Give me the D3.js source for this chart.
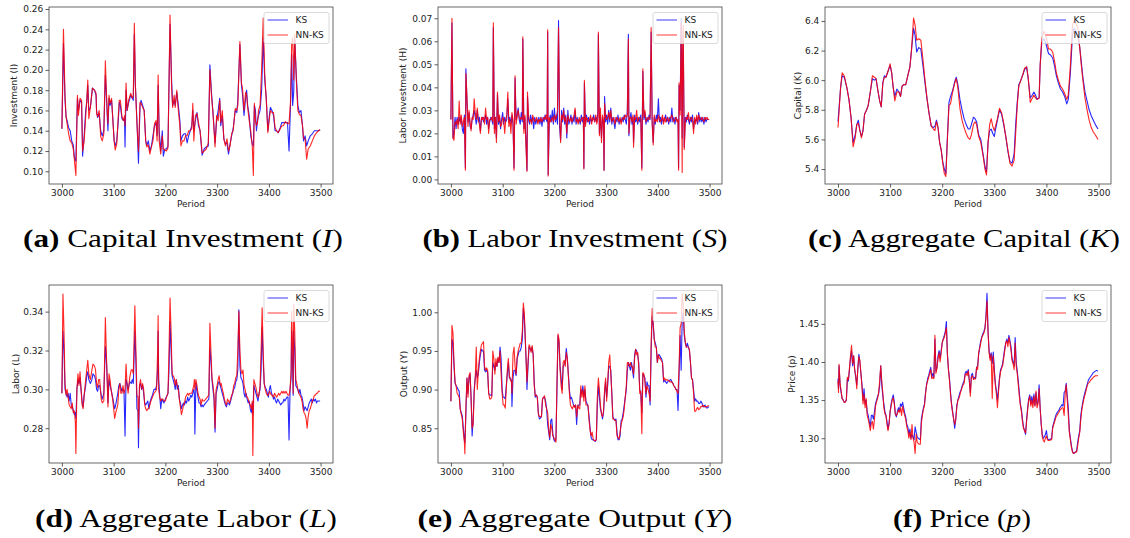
<!DOCTYPE html>
<html><head><meta charset="utf-8">
<script src="https://cdn.jsdelivr.net/npm/d3@7"></script>
<style>body{margin:0;background:#fff}svg{display:block}
.cap{font-family:"Liberation Serif","Times New Roman",Tinos,serif;}
</style>
</head><body>
<svg id="chart" width="1130" height="538"></svg>
<script>
// ---- data: [period, KS, NN-KS] ----
const seriesNames = ["KS", "NN-KS"];
const xTickValues = [3000, 3100, 3200, 3300, 3400, 3500];

const investment = [
[3000,.142,.142],[3003,.226,.240],[3006,.170,.175],[3008,.154,.154],[3010,.150,.147],[3013,.143,.137],[3016,.140,.130],[3019,.130,.128],[3022,.126,.122],[3024,.114,.112],[3027,.110,.096],[3030,.172,.175],[3032,.160,.155],[3035,.170,.172],[3038,.168,.170],[3040,.115,.120],[3043,.135,.130],[3046,.160,.154],[3048,.168,.170],[3050,.185,.190],[3052,.160,.152],[3055,.163,.163],[3059,.182,.182],[3063,.180,.180],[3066,.175,.177],[3067,.160,.157],[3069,.153,.154],[3072,.157,.160],[3075,.140,.134],[3078,.135,.130],[3081,.140,.137],[3084,.195,.209],[3086,.175,.177],[3088,.150,.155],[3089,.140,.147],[3091,.172,.175],[3093,.165,.167],[3096,.170,.172],[3098,.155,.154],[3101,.130,.130],[3103,.125,.121],[3106,.130,.127],[3109,.150,.155],[3111,.168,.170],[3113,.165,.170],[3116,.152,.154],[3119,.150,.150],[3121,.153,.155],[3122,.124,.145],[3124,.180,.187],[3126,.160,.160],[3129,.168,.170],[3133,.175,.177],[3136,.172,.172],[3138,.170,.175],[3140,.235,.246],[3142,.185,.185],[3145,.150,.147],[3148,.108,.120],[3151,.165,.168],[3153,.170,.167],[3156,.165,.163],[3159,.160,.160],[3162,.130,.130],[3164,.125,.124],[3167,.130,.126],[3170,.120,.117],[3173,.125,.124],[3176,.135,.130],[3179,.145,.147],[3182,.148,.150],[3184,.135,.130],[3186,.185,.195],[3188,.140,.130],[3191,.120,.117],[3194,.140,.135],[3196,.115,.122],[3199,.122,.121],[3202,.122,.120],[3205,.125,.123],[3209,.245,.254],[3212,.190,.183],[3214,.165,.163],[3217,.170,.175],[3219,.165,.163],[3222,.178,.180],[3225,.165,.160],[3228,.150,.145],[3230,.130,.125],[3233,.135,.130],[3236,.137,.130],[3239,.137,.135],[3242,.128,.135],[3245,.135,.140],[3248,.140,.140],[3251,.145,.142],[3253,.160,.167],[3255,.140,.130],[3258,.150,.155],[3261,.158,.157],[3264,.145,.148],[3267,.140,.140],[3269,.128,.130],[3271,.116,.118],[3275,.122,.120],[3279,.124,.122],[3283,.125,.128],[3286,.205,.200],[3289,.178,.175],[3292,.158,.157],[3296,.128,.124],[3299,.150,.155],[3302,.160,.150],[3305,.172,.170],[3307,.145,.148],[3310,.155,.160],[3313,.132,.132],[3316,.127,.125],[3319,.128,.132],[3322,.117,.120],[3325,.127,.125],[3328,.135,.137],[3331,.142,.140],[3335,.160,.162],[3338,.158,.160],[3340,.170,.165],[3344,.225,.228],[3347,.185,.187],[3349,.176,.182],[3352,.155,.160],[3355,.172,.178],[3357,.180,.175],[3359,.165,.163],[3362,.155,.150],[3365,.135,.140],[3368,.127,.124],[3370,.125,.096],[3372,.165,.167],[3374,.160,.150],[3376,.140,.145],[3378,.150,.148],[3380,.155,.160],[3383,.160,.165],[3386,.180,.200],[3389,.232,.251],[3392,.190,.196],[3395,.172,.170],[3398,.140,.138],[3401,.155,.152],[3403,.163,.160],[3406,.160,.158],[3409,.155,.158],[3412,.140,.143],[3415,.140,.140],[3418,.138,.138],[3422,.143,.142],[3425,.148,.145],[3428,.148,.145],[3432,.148,.149],[3436,.148,.147],[3439,.120,.147],[3442,.168,.170],[3444,.215,.225],[3446,.165,.232],[3448,.178,.190],[3450,.230,.235],[3453,.195,.190],[3456,.165,.160],[3459,.158,.156],[3462,.160,.155],[3465,.145,.145],[3467,.130,.133],[3470,.135,.132],[3473,.125,.112],[3476,.130,.122],[3480,.135,.125],[3484,.137,.130],[3488,.140,.135],[3492,.140,.138],[3496,.140,.140],[3499,.141,.141]
];

const laborInvestment = [
[3000,.026,.026],[3002,.068,.070],[3004,.018,.018],[3006,.020,.017],[3008,.027,.025],[3010,.022,.024],[3012,.027,.026],[3014,.024,.022],[3016,.027,.034],[3018,.025,.024],[3020,.027,.028],[3022,.022,.023],[3024,.020,.025],[3026,.028,.027],[3028,.005,.004],[3029,.048,.046],[3031,.034,.036],[3033,.025,.023],[3035,.029,.030],[3037,.023,.025],[3039,.022,.021],[3041,.026,.027],[3043,.028,.026],[3045,.030,.035],[3047,.027,.029],[3049,.024,.026],[3051,.030,.031],[3053,.025,.026],[3055,.027,.024],[3057,.021,.020],[3059,.026,.027],[3061,.027,.026],[3063,.025,.027],[3065,.026,.024],[3067,.028,.031],[3069,.024,.026],[3071,.027,.027],[3073,.022,.020],[3075,.025,.026],[3077,.027,.026],[3079,.026,.027],[3081,.024,.025],[3082,.066,.068],[3084,.022,.020],[3086,.027,.027],[3088,.018,.016],[3090,.037,.038],[3092,.024,.025],[3094,.027,.028],[3096,.022,.023],[3098,.026,.024],[3100,.029,.027],[3102,.024,.026],[3104,.027,.020],[3106,.025,.026],[3108,.026,.028],[3110,.035,.038],[3112,.025,.023],[3114,.027,.026],[3116,.024,.020],[3118,.028,.029],[3120,.024,.026],[3122,.005,.004],[3124,.044,.045],[3126,.026,.024],[3128,.028,.027],[3130,.031,.030],[3132,.026,.027],[3134,.024,.026],[3136,.029,.027],[3138,.025,.026],[3139,.061,.062],[3141,.022,.020],[3143,.027,.028],[3145,.017,.015],[3147,.004,.0035],[3148,.036,.038],[3150,.026,.028],[3152,.024,.025],[3154,.028,.026],[3156,.025,.024],[3158,.027,.028],[3160,.022,.026],[3162,.027,.025],[3164,.024,.026],[3166,.026,.027],[3168,.025,.024],[3170,.027,.026],[3172,.024,.025],[3174,.027,.027],[3176,.023,.025],[3178,.027,.026],[3180,.025,.027],[3182,.028,.026],[3184,.026,.028],[3186,.025,.026],[3187,.064,.065],[3188,.002,.0015],[3190,.024,.027],[3192,.028,.025],[3194,.025,.026],[3196,.030,.027],[3198,.024,.025],[3200,.031,.028],[3202,.025,.026],[3204,.028,.027],[3206,.024,.030],[3208,.069,.066],[3210,.023,.028],[3212,.017,.016],[3214,.030,.028],[3216,.025,.026],[3218,.031,.030],[3220,.024,.025],[3222,.028,.027],[3224,.018,.020],[3226,.030,.028],[3228,.024,.026],[3230,.026,.025],[3232,.028,.027],[3234,.024,.025],[3236,.027,.026],[3238,.025,.028],[3240,.030,.031],[3242,.024,.025],[3244,.027,.026],[3246,.025,.024],[3248,.026,.027],[3250,.024,.025],[3252,.028,.026],[3254,.025,.027],[3256,.027,.026],[3257,.005,.0045],[3258,.042,.043],[3260,.024,.023],[3262,.028,.027],[3264,.025,.026],[3266,.027,.025],[3268,.024,.026],[3270,.027,.028],[3272,.025,.024],[3274,.026,.027],[3276,.028,.026],[3278,.025,.025],[3280,.027,.028],[3282,.025,.024],[3284,.029,.027],[3285,.063,.064],[3287,.020,.019],[3289,.028,.031],[3291,.018,.016],[3293,.027,.028],[3295,.024,.025],[3296,.004,.004],[3297,.036,.033],[3299,.025,.027],[3301,.028,.026],[3303,.024,.027],[3305,.030,.029],[3307,.025,.026],[3309,.031,.030],[3311,.024,.025],[3313,.027,.026],[3315,.025,.027],[3317,.022,.024],[3319,.027,.026],[3321,.025,.027],[3323,.028,.026],[3325,.024,.025],[3327,.026,.027],[3329,.025,.024],[3331,.027,.026],[3333,.025,.027],[3335,.028,.026],[3337,.026,.028],[3339,.024,.027],[3341,.030,.028],[3343,.063,.061],[3344,.019,.020],[3346,.026,.027],[3348,.029,.027],[3350,.024,.025],[3352,.027,.028],[3353,.016,.014],[3355,.028,.027],[3357,.025,.026],[3359,.027,.030],[3361,.024,.025],[3363,.027,.026],[3365,.025,.027],[3367,.028,.026],[3369,.005,.004],[3371,.047,.048],[3373,.026,.027],[3375,.029,.030],[3377,.024,.025],[3379,.027,.026],[3381,.025,.027],[3383,.028,.026],[3385,.026,.027],[3387,.064,.066],[3389,.025,.024],[3391,.016,.015],[3393,.027,.028],[3395,.024,.025],[3397,.028,.026],[3399,.026,.025],[3401,.035,.028],[3403,.025,.026],[3405,.027,.025],[3407,.024,.026],[3409,.027,.028],[3411,.025,.024],[3413,.026,.027],[3415,.028,.025],[3417,.025,.026],[3419,.027,.027],[3421,.024,.025],[3423,.027,.026],[3425,.025,.027],[3427,.031,.028],[3429,.025,.026],[3431,.027,.025],[3433,.024,.026],[3435,.027,.027],[3437,.026,.025],[3439,.025,.026],[3440,.005,.004],[3441,.041,.042],[3443,.030,.028],[3445,.070,.068],[3447,.018,.003],[3448,.055,.062],[3449,.060,.067],[3451,.014,.013],[3453,.027,.025],[3455,.025,.027],[3457,.028,.026],[3459,.026,.029],[3461,.024,.025],[3463,.027,.026],[3465,.025,.027],[3467,.028,.026],[3469,.022,.020],[3471,.026,.027],[3473,.025,.024],[3475,.027,.028],[3477,.024,.025],[3479,.029,.028],[3481,.025,.026],[3483,.027,.026],[3485,.025,.027],[3487,.027,.026],[3489,.024,.025],[3491,.027,.027],[3493,.025,.026],[3495,.026,.027],[3497,.026,.026],[3499,.026,.026]
];

const capital = [
[3000,5.72,5.68],[3005,5.95,5.95],[3008,6.03,6.05],[3012,6.02,6.03],[3017,5.95,5.95],[3021,5.87,5.87],[3025,5.75,5.75],[3029,5.58,5.55],[3033,5.63,5.61],[3036,5.70,5.70],[3039,5.73,5.71],[3042,5.66,5.66],[3045,5.62,5.61],[3048,5.66,5.66],[3051,5.77,5.77],[3055,5.80,5.80],[3058,5.83,5.83],[3062,5.92,5.92],[3066,6.01,6.03],[3070,6.00,6.02],[3073,6.01,6.01],[3077,5.92,5.92],[3080,5.86,5.86],[3083,5.82,5.82],[3086,5.98,5.98],[3089,6.03,6.02],[3092,6.02,6.02],[3096,6.06,6.06],[3100,6.10,6.11],[3103,6.05,6.05],[3106,5.95,5.95],[3109,5.89,5.86],[3113,5.94,5.92],[3117,5.92,5.92],[3120,5.89,5.89],[3123,5.96,5.96],[3126,5.97,5.97],[3130,5.97,5.97],[3134,6.03,6.03],[3138,6.09,6.09],[3141,6.20,6.20],[3145,6.35,6.42],[3148,6.30,6.37],[3151,6.19,6.27],[3155,6.22,6.28],[3159,6.21,6.27],[3163,6.10,6.14],[3167,5.98,6.00],[3171,5.87,5.87],[3175,5.77,5.77],[3179,5.69,5.69],[3183,5.68,5.67],[3186,5.69,5.66],[3189,5.73,5.72],[3192,5.68,5.68],[3195,5.58,5.58],[3198,5.53,5.53],[3201,5.45,5.44],[3204,5.40,5.37],[3207,5.37,5.35],[3210,5.62,5.60],[3213,5.85,5.83],[3216,5.89,5.84],[3220,5.93,5.92],[3224,5.99,5.98],[3227,6.02,6.01],[3230,5.97,5.95],[3234,5.87,5.81],[3238,5.80,5.73],[3242,5.74,5.68],[3246,5.70,5.64],[3250,5.67,5.61],[3253,5.67,5.60],[3256,5.70,5.63],[3260,5.75,5.70],[3263,5.74,5.72],[3266,5.72,5.70],[3270,5.63,5.62],[3274,5.60,5.58],[3278,5.51,5.50],[3282,5.42,5.40],[3285,5.38,5.36],[3288,5.58,5.58],[3291,5.66,5.70],[3294,5.67,5.74],[3297,5.64,5.69],[3300,5.62,5.66],[3303,5.68,5.70],[3306,5.73,5.74],[3310,5.80,5.81],[3314,5.77,5.78],[3318,5.70,5.71],[3322,5.62,5.62],[3326,5.52,5.53],[3330,5.45,5.44],[3334,5.44,5.42],[3338,5.50,5.46],[3341,5.70,5.64],[3344,5.85,5.83],[3347,5.97,5.96],[3351,6.00,6.00],[3355,6.04,6.04],[3358,6.07,6.08],[3362,6.09,6.09],[3365,6.01,6.02],[3369,5.88,5.85],[3373,5.90,5.88],[3376,5.92,5.90],[3379,5.90,5.88],[3382,5.87,5.87],[3386,5.88,5.88],[3388,6.10,6.10],[3391,6.25,6.28],[3395,6.28,6.33],[3398,6.26,6.31],[3401,6.22,6.27],[3404,6.18,6.21],[3408,6.17,6.21],[3412,6.15,6.19],[3416,6.09,6.12],[3419,6.03,6.05],[3423,5.98,6.00],[3427,5.94,5.96],[3431,5.92,5.94],[3435,5.89,5.91],[3439,5.84,5.87],[3442,5.87,5.90],[3446,6.05,6.10],[3450,6.30,6.37],[3453,6.35,6.40],[3457,6.33,6.38],[3460,6.30,6.36],[3464,6.22,6.22],[3467,6.12,6.10],[3470,6.02,6.00],[3474,5.92,5.88],[3478,5.86,5.80],[3482,5.80,5.73],[3486,5.76,5.68],[3490,5.73,5.65],[3494,5.70,5.63],[3499,5.67,5.60]
];

const labor = [
[3000,.298,.298],[3002,.330,.349],[3004,.320,.330],[3006,.300,.303],[3008,.298,.297],[3010,.296,.300],[3012,.298,.296],[3014,.294,.292],[3016,.298,.291],[3018,.292,.290],[3020,.291,.293],[3022,.289,.288],[3024,.287,.289],[3026,.288,.283],[3027,.285,.267],[3029,.300,.300],[3031,.305,.308],[3033,.303,.302],[3035,.306,.309],[3037,.300,.300],[3039,.294,.292],[3041,.291,.290],[3043,.297,.297],[3046,.302,.305],[3048,.307,.310],[3050,.309,.315],[3052,.305,.308],[3055,.303,.305],[3058,.305,.310],[3060,.308,.313],[3063,.307,.312],[3065,.305,.310],[3067,.300,.303],[3069,.299,.301],[3071,.302,.305],[3073,.302,.305],[3076,.297,.295],[3078,.295,.293],[3081,.298,.294],[3084,.322,.337],[3086,.315,.318],[3088,.302,.300],[3089,.293,.291],[3091,.305,.308],[3093,.302,.305],[3095,.300,.300],[3098,.296,.295],[3100,.293,.290],[3102,.290,.285],[3104,.292,.288],[3106,.295,.290],[3108,.298,.292],[3110,.302,.300],[3112,.303,.303],[3114,.301,.298],[3116,.299,.298],[3118,.300,.302],[3120,.299,.298],[3122,.276,.300],[3124,.305,.313],[3126,.303,.302],[3128,.300,.298],[3131,.304,.306],[3134,.303,.310],[3136,.305,.310],[3138,.303,.308],[3141,.330,.343],[3143,.315,.320],[3145,.290,.297],[3147,.289,.296],[3148,.270,.280],[3150,.302,.302],[3152,.303,.305],[3154,.300,.300],[3156,.302,.303],[3158,.298,.300],[3160,.293,.292],[3162,.292,.290],[3164,.293,.289],[3166,.294,.290],[3168,.290,.290],[3170,.293,.292],[3172,.295,.294],[3175,.297,.296],[3178,.300,.298],[3181,.300,.299],[3183,.302,.300],[3185,.310,.320],[3186,.330,.338],[3187,.305,.300],[3189,.297,.296],[3191,.290,.294],[3193,.295,.295],[3195,.294,.295],[3197,.293,.294],[3200,.295,.294],[3202,.296,.296],[3205,.298,.298],[3207,.310,.320],[3209,.335,.347],[3211,.320,.330],[3213,.307,.308],[3215,.305,.307],[3217,.303,.306],[3219,.300,.302],[3221,.305,.305],[3223,.300,.302],[3225,.302,.300],[3227,.295,.295],[3229,.293,.291],[3231,.290,.287],[3233,.292,.289],[3235,.293,.292],[3237,.292,.293],[3239,.294,.296],[3241,.293,.297],[3243,.296,.298],[3245,.294,.297],[3247,.295,.298],[3249,.297,.298],[3251,.296,.298],[3253,.298,.300],[3255,.300,.302],[3256,.298,.305],[3257,.277,.300],[3259,.303,.305],[3261,.300,.302],[3263,.296,.298],[3265,.293,.296],[3267,.293,.295],[3269,.291,.292],[3271,.292,.295],[3273,.291,.294],[3275,.292,.294],[3278,.293,.295],[3281,.294,.296],[3284,.295,.297],[3286,.322,.334],[3288,.315,.320],[3290,.305,.306],[3292,.300,.302],[3294,.295,.297],[3296,.278,.280],[3298,.298,.300],[3300,.300,.302],[3302,.303,.305],[3304,.304,.307],[3306,.302,.302],[3308,.300,.303],[3310,.298,.300],[3312,.296,.298],[3314,.294,.295],[3316,.292,.293],[3318,.291,.292],[3320,.293,.295],[3322,.293,.294],[3324,.292,.293],[3326,.294,.295],[3328,.296,.297],[3330,.298,.298],[3332,.300,.302],[3334,.301,.303],[3336,.304,.306],[3338,.305,.307],[3340,.310,.320],[3342,.341,.340],[3344,.312,.320],[3346,.306,.310],[3348,.305,.308],[3350,.303,.310],[3352,.298,.302],[3354,.296,.300],[3356,.298,.297],[3358,.295,.296],[3360,.293,.295],[3362,.294,.293],[3364,.290,.292],[3366,.288,.290],[3368,.293,.294],[3369,.287,.266],[3371,.302,.305],[3373,.300,.303],[3375,.298,.301],[3377,.296,.298],[3379,.294,.296],[3381,.298,.297],[3383,.300,.302],[3385,.310,.320],[3387,.332,.342],[3389,.315,.320],[3391,.303,.303],[3393,.301,.300],[3395,.300,.298],[3397,.298,.297],[3399,.296,.297],[3401,.300,.299],[3403,.302,.298],[3405,.298,.297],[3407,.297,.297],[3409,.295,.296],[3411,.296,.298],[3413,.294,.297],[3415,.293,.296],[3417,.295,.297],[3419,.294,.298],[3421,.293,.297],[3423,.292,.298],[3425,.293,.299],[3427,.293,.298],[3429,.295,.299],[3431,.294,.298],[3433,.295,.299],[3435,.296,.298],[3437,.296,.297],[3439,.274,.297],[3441,.300,.300],[3443,.306,.310],[3444,.330,.340],[3446,.310,.320],[3447,.297,.298],[3448,.330,.344],[3450,.320,.330],[3452,.302,.305],[3454,.301,.303],[3456,.300,.300],[3458,.298,.298],[3460,.300,.297],[3462,.297,.296],[3464,.296,.294],[3466,.293,.290],[3468,.289,.288],[3470,.291,.287],[3472,.290,.285],[3474,.289,.280],[3476,.291,.286],[3478,.293,.289],[3480,.294,.290],[3482,.295,.292],[3484,.293,.294],[3486,.295,.295],[3488,.294,.297],[3490,.295,.297],[3492,.293,.298],[3494,.294,.298],[3496,.294,.299],[3499,.294,.299]
];

const output = [
[3000,.885,.885],[3002,.965,.983],[3004,.960,.973],[3006,.930,.935],[3008,.908,.910],[3010,.905,.905],[3012,.903,.895],[3014,.900,.893],[3016,.898,.890],[3018,.875,.875],[3020,.870,.868],[3022,.866,.862],[3024,.850,.845],[3026,.835,.833],[3027,.831,.817],[3029,.870,.878],[3031,.915,.915],[3033,.895,.890],[3035,.915,.918],[3037,.920,.922],[3039,.890,.888],[3041,.840,.850],[3043,.860,.855],[3045,.900,.895],[3047,.915,.915],[3049,.925,.955],[3051,.915,.900],[3053,.920,.925],[3055,.935,.940],[3057,.945,.950],[3059,.952,.958],[3061,.950,.960],[3063,.950,.962],[3065,.925,.930],[3067,.923,.925],[3069,.925,.928],[3071,.922,.925],[3073,.895,.895],[3075,.893,.888],[3077,.893,.888],[3079,.892,.890],[3081,.935,.950],[3083,.930,.940],[3085,.925,.920],[3087,.935,.940],[3089,.930,.930],[3091,.940,.942],[3093,.935,.935],[3095,.955,.950],[3097,.940,.920],[3099,.900,.895],[3101,.890,.880],[3103,.890,.880],[3105,.888,.876],[3107,.905,.900],[3109,.920,.925],[3111,.935,.940],[3113,.915,.918],[3115,.915,.912],[3117,.912,.910],[3118,.878,.895],[3120,.915,.945],[3122,.925,.955],[3124,.925,.930],[3126,.918,.920],[3128,.940,.942],[3130,.945,.950],[3132,.950,.955],[3134,.950,.960],[3136,.955,.960],[3138,.965,.975],[3140,1.005,1.012],[3142,.990,.998],[3144,.960,.962],[3146,.928,.925],[3147,.900,.910],[3149,.930,.935],[3151,.955,.958],[3153,.953,.955],[3155,.950,.948],[3157,.955,.957],[3159,.945,.945],[3161,.910,.905],[3163,.890,.892],[3165,.893,.893],[3167,.890,.890],[3169,.870,.868],[3171,.862,.865],[3173,.863,.865],[3175,.865,.865],[3177,.887,.888],[3179,.890,.890],[3181,.890,.892],[3183,.885,.880],[3185,.875,.875],[3187,.855,.870],[3189,.845,.848],[3191,.835,.838],[3193,.860,.855],[3195,.862,.850],[3197,.843,.840],[3199,.835,.838],[3201,.833,.835],[3203,.835,.832],[3205,.900,.910],[3207,.970,.972],[3209,.960,.965],[3211,.930,.925],[3213,.915,.905],[3215,.900,.895],[3217,.930,.935],[3219,.933,.938],[3221,.935,.930],[3223,.953,.948],[3225,.940,.940],[3227,.920,.918],[3229,.900,.895],[3231,.888,.880],[3233,.890,.877],[3235,.885,.875],[3237,.880,.880],[3239,.878,.877],[3241,.880,.880],[3243,.855,.865],[3245,.878,.880],[3247,.880,.876],[3249,.880,.875],[3251,.900,.905],[3253,.895,.890],[3255,.905,.900],[3257,.890,.885],[3259,.900,.905],[3261,.885,.880],[3263,.882,.880],[3265,.878,.880],[3267,.865,.860],[3269,.850,.847],[3271,.838,.840],[3273,.835,.845],[3275,.835,.836],[3277,.834,.834],[3279,.833,.834],[3281,.835,.835],[3283,.880,.890],[3285,.905,.915],[3287,.890,.900],[3289,.875,.880],[3291,.870,.868],[3293,.862,.865],[3295,.870,.872],[3297,.895,.900],[3299,.910,.915],[3301,.890,.885],[3303,.905,.910],[3305,.930,.935],[3307,.930,.945],[3309,.925,.920],[3311,.895,.895],[3313,.865,.862],[3315,.862,.862],[3317,.860,.860],[3319,.862,.860],[3321,.845,.840],[3323,.835,.838],[3325,.835,.836],[3327,.840,.845],[3329,.860,.855],[3331,.862,.860],[3333,.870,.865],[3335,.880,.875],[3337,.890,.890],[3339,.900,.905],[3341,.925,.935],[3343,.935,.935],[3345,.930,.930],[3347,.925,.935],[3349,.935,.930],[3351,.925,.930],[3353,.915,.920],[3355,.945,.940],[3357,.952,.952],[3359,.950,.945],[3361,.945,.948],[3363,.935,.930],[3365,.900,.895],[3367,.895,.898],[3369,.870,.843],[3371,.920,.922],[3373,.918,.920],[3375,.915,.910],[3377,.890,.895],[3379,.910,.905],[3381,.905,.900],[3383,.905,.895],[3385,.880,.885],[3387,.950,.960],[3389,.995,1.005],[3391,.985,.985],[3393,.965,.965],[3395,.960,.955],[3397,.955,.955],[3399,.935,.935],[3401,.945,.945],[3403,.945,.940],[3405,.942,.940],[3407,.940,.937],[3409,.935,.935],[3411,.910,.912],[3413,.912,.915],[3415,.910,.912],[3417,.908,.913],[3419,.910,.912],[3421,.912,.912],[3423,.912,.910],[3425,.913,.910],[3427,.910,.910],[3429,.908,.908],[3431,.905,.905],[3433,.903,.903],[3435,.900,.900],[3437,.900,.898],[3439,.873,.895],[3441,.920,.930],[3443,.970,.980],[3445,.925,.985],[3447,.990,1.024],[3449,1.000,1.010],[3451,.970,.975],[3453,.960,.962],[3455,.955,.955],[3457,.960,.955],[3459,.955,.955],[3461,.950,.952],[3463,.935,.935],[3465,.915,.915],[3467,.913,.912],[3469,.900,.895],[3471,.885,.872],[3473,.888,.872],[3475,.885,.875],[3477,.885,.877],[3479,.882,.874],[3481,.882,.875],[3483,.885,.878],[3485,.883,.878],[3487,.878,.880],[3489,.878,.878],[3491,.880,.878],[3493,.877,.878],[3495,.876,.878],[3497,.877,.879],[3499,.878,.879]
];

const price = [
[3000,1.378,1.375],[3001,1.365,1.360],[3002,1.395,1.397],[3004,1.370,1.372],[3006,1.360,1.362],[3008,1.352,1.352],[3010,1.350,1.350],[3012,1.347,1.347],[3014,1.348,1.347],[3016,1.350,1.350],[3018,1.378,1.380],[3020,1.375,1.377],[3022,1.390,1.392],[3024,1.405,1.408],[3026,1.415,1.422],[3028,1.395,1.398],[3030,1.408,1.408],[3032,1.390,1.390],[3034,1.380,1.382],[3036,1.370,1.365],[3038,1.390,1.392],[3040,1.410,1.407],[3042,1.400,1.402],[3044,1.385,1.385],[3046,1.370,1.368],[3048,1.350,1.345],[3050,1.365,1.358],[3052,1.345,1.340],[3054,1.350,1.352],[3056,1.335,1.330],[3058,1.330,1.325],[3060,1.322,1.318],[3062,1.315,1.310],[3064,1.330,1.320],[3066,1.330,1.322],[3068,1.325,1.312],[3070,1.335,1.325],[3072,1.345,1.342],[3074,1.350,1.348],[3076,1.355,1.352],[3078,1.358,1.360],[3080,1.370,1.375],[3082,1.395,1.395],[3084,1.370,1.375],[3086,1.355,1.360],[3088,1.345,1.340],[3090,1.335,1.332],[3092,1.330,1.330],[3094,1.322,1.318],[3096,1.312,1.310],[3098,1.320,1.318],[3100,1.335,1.335],[3102,1.345,1.342],[3104,1.352,1.350],[3106,1.357,1.353],[3108,1.348,1.345],[3110,1.332,1.332],[3112,1.328,1.330],[3114,1.335,1.332],[3116,1.340,1.337],[3118,1.335,1.334],[3120,1.345,1.340],[3122,1.342,1.330],[3124,1.347,1.342],[3126,1.340,1.335],[3128,1.333,1.330],[3130,1.328,1.325],[3132,1.318,1.315],[3134,1.315,1.310],[3136,1.305,1.300],[3138,1.312,1.308],[3140,1.300,1.298],[3142,1.305,1.318],[3144,1.302,1.300],[3146,1.298,1.295],[3148,1.315,1.280],[3150,1.308,1.305],[3152,1.302,1.295],[3154,1.300,1.293],[3156,1.299,1.292],[3158,1.298,1.292],[3160,1.325,1.320],[3162,1.333,1.330],[3164,1.340,1.338],[3166,1.345,1.343],[3168,1.360,1.358],[3170,1.370,1.370],[3172,1.378,1.375],[3174,1.382,1.380],[3176,1.388,1.385],[3178,1.393,1.390],[3180,1.380,1.378],[3182,1.385,1.380],[3184,1.380,1.378],[3186,1.430,1.435],[3188,1.388,1.385],[3190,1.393,1.392],[3192,1.408,1.405],[3194,1.415,1.412],[3196,1.405,1.400],[3198,1.415,1.412],[3200,1.425,1.425],[3202,1.430,1.430],[3204,1.435,1.432],[3206,1.440,1.438],[3208,1.453,1.445],[3210,1.410,1.410],[3212,1.390,1.390],[3214,1.378,1.375],[3216,1.360,1.357],[3218,1.345,1.343],[3220,1.335,1.333],[3222,1.325,1.325],[3224,1.313,1.318],[3226,1.325,1.325],[3228,1.343,1.340],[3230,1.350,1.350],[3232,1.355,1.352],[3234,1.360,1.357],[3236,1.363,1.362],[3238,1.368,1.366],[3240,1.372,1.370],[3242,1.375,1.372],[3244,1.385,1.383],[3246,1.388,1.385],[3248,1.385,1.382],[3250,1.390,1.388],[3252,1.375,1.377],[3254,1.360,1.355],[3256,1.383,1.380],[3258,1.385,1.382],[3260,1.378,1.377],[3262,1.380,1.378],[3264,1.378,1.378],[3266,1.393,1.393],[3268,1.395,1.390],[3270,1.410,1.413],[3272,1.420,1.418],[3274,1.428,1.425],[3276,1.433,1.432],[3278,1.437,1.435],[3280,1.440,1.438],[3282,1.445,1.443],[3284,1.460,1.458],[3286,1.490,1.480],[3288,1.440,1.438],[3290,1.415,1.412],[3292,1.405,1.402],[3294,1.412,1.410],[3296,1.398,1.352],[3298,1.413,1.408],[3300,1.390,1.387],[3302,1.372,1.370],[3304,1.362,1.358],[3306,1.350,1.340],[3308,1.365,1.360],[3310,1.380,1.377],[3312,1.390,1.387],[3314,1.393,1.392],[3316,1.398,1.395],[3318,1.408,1.405],[3320,1.418,1.415],[3322,1.425,1.425],[3324,1.430,1.428],[3326,1.425,1.420],[3328,1.435,1.432],[3330,1.428,1.425],[3332,1.420,1.415],[3334,1.405,1.402],[3336,1.400,1.398],[3338,1.395,1.390],[3340,1.432,1.425],[3342,1.400,1.395],[3344,1.388,1.385],[3346,1.375,1.370],[3348,1.360,1.355],[3350,1.345,1.343],[3352,1.338,1.335],[3354,1.325,1.322],[3356,1.315,1.313],[3358,1.310,1.310],[3360,1.305,1.307],[3362,1.325,1.322],[3364,1.340,1.337],[3366,1.352,1.350],[3368,1.357,1.355],[3370,1.345,1.342],[3372,1.355,1.350],[3374,1.345,1.340],[3376,1.358,1.355],[3378,1.343,1.342],[3380,1.360,1.362],[3382,1.345,1.340],[3384,1.348,1.345],[3386,1.370,1.365],[3388,1.340,1.338],[3390,1.318,1.320],[3392,1.305,1.302],[3394,1.300,1.297],[3396,1.302,1.295],[3398,1.305,1.300],[3400,1.310,1.303],[3402,1.300,1.298],[3404,1.298,1.297],[3406,1.298,1.297],[3408,1.299,1.298],[3410,1.300,1.298],[3412,1.315,1.313],[3414,1.320,1.318],[3416,1.325,1.322],[3418,1.330,1.327],[3420,1.333,1.330],[3422,1.335,1.332],[3424,1.337,1.334],[3426,1.340,1.337],[3428,1.342,1.338],[3430,1.344,1.340],[3432,1.342,1.340],[3434,1.360,1.330],[3436,1.362,1.358],[3438,1.372,1.370],[3440,1.355,1.350],[3442,1.340,1.330],[3444,1.310,1.308],[3446,1.300,1.298],[3448,1.290,1.288],[3450,1.283,1.282],[3452,1.280,1.280],[3454,1.281,1.281],[3456,1.282,1.282],[3458,1.283,1.282],[3460,1.295,1.290],[3462,1.303,1.300],[3464,1.310,1.308],[3466,1.330,1.325],[3468,1.340,1.337],[3470,1.348,1.345],[3472,1.355,1.352],[3474,1.360,1.357],[3476,1.365,1.362],[3478,1.370,1.368],[3480,1.375,1.372],[3482,1.378,1.373],[3484,1.380,1.375],[3486,1.382,1.377],[3488,1.384,1.378],[3490,1.386,1.380],[3492,1.387,1.381],[3494,1.388,1.382],[3496,1.389,1.382],[3499,1.388,1.382]
];

const yTicksA = [0.10,0.12,0.14,0.16,0.18,0.20,0.22,0.24,0.26];
const yTicksB = [0.00,0.01,0.02,0.03,0.04,0.05,0.06,0.07];
const yTicksC = [5.4,5.6,5.8,6.0,6.2,6.4];
const yTicksD = [0.28,0.30,0.32,0.34];
const yTicksE = [0.85,0.90,0.95,1.00];
const yTicksF = [1.30,1.35,1.40,1.45];

const yLabels = ["Investment (I)","Labor Investment (H)","Capital (K)","Labor (L)","Output (Y)","Price (p)"];
const captionLetters = ["(a)","(b)","(c)","(d)","(e)","(f)"];
const captionTitles = ["Capital Investment","Labor Investment","Aggregate Capital","Aggregate Labor","Aggregate Output","Price"];
const captionSymbols = ["I","S","K","L","Y","p"];

// ---- layout (positions & styles) ----
const colX = [[49,333],[438,722],[825,1111]];
const rowY = [[7,184],[285,463]];
const yLabelX = [14,403,798,16,404,792];
const captionCX = [183,575,964,186,575,962];
const captionW = [320,305,312,302,315,138];
const captionBase = [247,527];
const yDomains = [[0.0875,0.262],[-0.002,0.0749],[5.299,6.494],[0.2621,0.3537],[0.805,1.0353],[1.2675,1.501]];
const yTicksAll = [yTicksA,yTicksB,yTicksC,yTicksD,yTicksE,yTicksF];
const yFormats = [".2f",".2f",".1f",".2f",".2f",".2f"];
const datasets = [investment,laborInvestment,capital,labor,output,price];
const colors = ["#0000ff","#ff0000"];

const svg = d3.select("#chart");
const tickFont = "DejaVu Sans, sans-serif";

datasets.forEach((data, i) => {
  const col = i % 3, row = Math.floor(i / 3);
  const [x0, x1] = colX[col], [y0, y1] = rowY[row];
  const x = d3.scaleLinear().domain([2975.05, 3523.95]).range([x0, x1]);
  const y = d3.scaleLinear().domain(yDomains[i]).range([y1, y0]);
  const g = svg.append("g");

  const clipId = "clip" + i;
  svg.append("clipPath").attr("id", clipId).append("rect")
    .attr("x", x0).attr("y", y0).attr("width", x1 - x0).attr("height", y1 - y0);

  const lines = g.append("g").attr("clip-path", `url(#${clipId})`);
  [1, 2].forEach(k => {
    const line = d3.line().x(d => x(d[0])).y(d => y(d[k]));
    lines.append("path").datum(data)
      .attr("fill", "none").attr("stroke", colors[k - 1])
      .attr("stroke-width", 1.1).attr("stroke-opacity", 0.85)
      .attr("stroke-linejoin", "round")
      .attr("d", line);
  });

  // axes
  const xAxis = d3.axisBottom(x).tickValues(xTickValues).tickFormat(d3.format("d")).tickSize(3.5).tickPadding(2);
  const yAxis = d3.axisLeft(y).tickValues(yTicksAll[i]).tickFormat(d3.format(yFormats[i])).tickSize(3.5).tickPadding(2.2);
  const gx = g.append("g").attr("transform", `translate(0,${y1})`).call(xAxis);
  const gy = g.append("g").attr("transform", `translate(${x0},0)`).call(yAxis);
  [gx, gy].forEach(a => {
    a.select(".domain").remove();
    a.selectAll("line").attr("stroke", "#333").attr("stroke-width", 0.8);
    a.selectAll("text").attr("font-family", tickFont).attr("font-size", 9).attr("fill", "#222");
  });

  g.append("rect").attr("x", x0).attr("y", y0).attr("width", x1 - x0).attr("height", y1 - y0)
    .attr("fill", "none").attr("stroke", "#444").attr("stroke-width", 0.8);

  g.append("text").attr("x", (x0 + x1) / 2).attr("y", y1 + 22.5)
    .attr("text-anchor", "middle").attr("font-family", tickFont).attr("font-size", 9).attr("fill", "#222")
    .text("Period");
  g.append("text").attr("transform", `translate(${yLabelX[i]},${(y0 + y1) / 2}) rotate(-90)`)
    .attr("text-anchor", "middle").attr("dominant-baseline", "central")
    .attr("font-family", tickFont).attr("font-size", 9).attr("fill", "#222")
    .text(yLabels[i]);

  // legend
  const lx = x1 - 69, ly = y0 + 5.5;
  const lg = g.append("g").attr("transform", `translate(${lx},${ly})`);
  lg.append("rect").attr("width", 65).attr("height", 31).attr("rx", 2)
    .attr("fill", "#fff").attr("fill-opacity", 0.8).attr("stroke", "#d0d0d0").attr("stroke-width", 0.8);
  seriesNames.forEach((name, k) => {
    const yy = 7.5 + k * 15;
    lg.append("line").attr("x1", 3.5).attr("x2", 24).attr("y1", yy).attr("y2", yy)
      .attr("stroke", colors[k]).attr("stroke-width", 1.3).attr("stroke-opacity", 0.6);
    lg.append("text").attr("x", 31.5).attr("y", yy).attr("dominant-baseline", "central")
      .attr("font-family", tickFont).attr("font-size", 9).attr("fill", "#222").text(name);
  });

  // caption
  const cap = svg.append("text").attr("class", "cap").attr("x", captionCX[i]).attr("y", captionBase[row])
    .attr("text-anchor", "middle").attr("font-size", 25).attr("fill", "#000");
  cap.append("tspan").attr("font-weight", "bold").text(captionLetters[i]);
  cap.append("tspan").text(" " + captionTitles[i] + " (");
  cap.append("tspan").attr("font-style", "italic").text(captionSymbols[i]);
  cap.append("tspan").text(")");
  const w = cap.node().getComputedTextLength();
  const s = captionW[i] / w;
  cap.attr("transform", `translate(${captionCX[i]},0) scale(${s},1) translate(${-captionCX[i]},0)`);
});
</script>
</body></html>
